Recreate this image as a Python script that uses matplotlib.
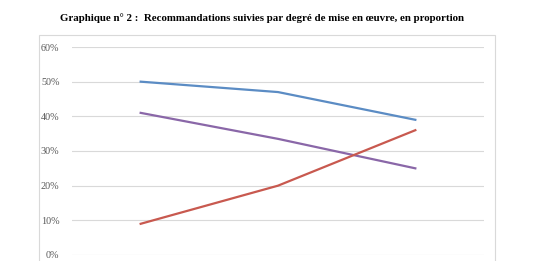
import matplotlib.pyplot as plt
from matplotlib.patches import Rectangle

categories = ['Totale', 'Partielle', 'Non mise en œuvre']
blue_vals = [0.50, 0.47, 0.39]
purple_vals = [0.41, 0.335, 0.25]
red_vals = [0.09, 0.20, 0.36]
yticks = [0, 0.1, 0.2, 0.3, 0.4, 0.5, 0.6]

W, H = 533, 261
fig = plt.figure(figsize=(W / 100, H / 100), dpi=100)
fig.patch.set_facecolor('white')

# outer chart frame (cropped at the bottom)
fig.patches.append(Rectangle((39 / W, -0.1), (495 - 39) / W, 1.1 - 35 / H,
                             transform=fig.transFigure, fill=False,
                             edgecolor='#D9D9D9', linewidth=0.8))

ax = fig.add_axes([72 / W, (H - 255) / H, (484 - 72) / W, (255 - 47) / H])
x = range(len(categories))
ax.plot(x, blue_vals, color='#5B8CC4', linewidth=1.6)
ax.plot(x, purple_vals, color='#8A67A8', linewidth=1.6)
ax.plot(x, red_vals, color='#C8594F', linewidth=1.6)

ax.set_xlim(-0.5, 2.5)
ax.set_ylim(0, 0.6)
ax.set_yticks(yticks)
ax.set_yticklabels(['%d%%' % round(v * 100) for v in yticks],
                   family='Liberation Serif', fontsize=7.3, color='#595959')
ax.set_xticks([])
ax.tick_params(axis='y', length=0, pad=9)
ax.grid(axis='y', color='#D9D9D9', linewidth=0.8)
ax.set_axisbelow(True)
for s in ax.spines.values():
    s.set_visible(False)

fig.text(262 / W, 1 - 18 / H,
         'Graphique n° 2 :  Recommandations suivies par degré de mise en œuvre, en proportion',
         ha='center', va='center', family='Liberation Serif', fontweight='bold', fontsize=7.8)

fig.savefig('out.png', dpi=100)
